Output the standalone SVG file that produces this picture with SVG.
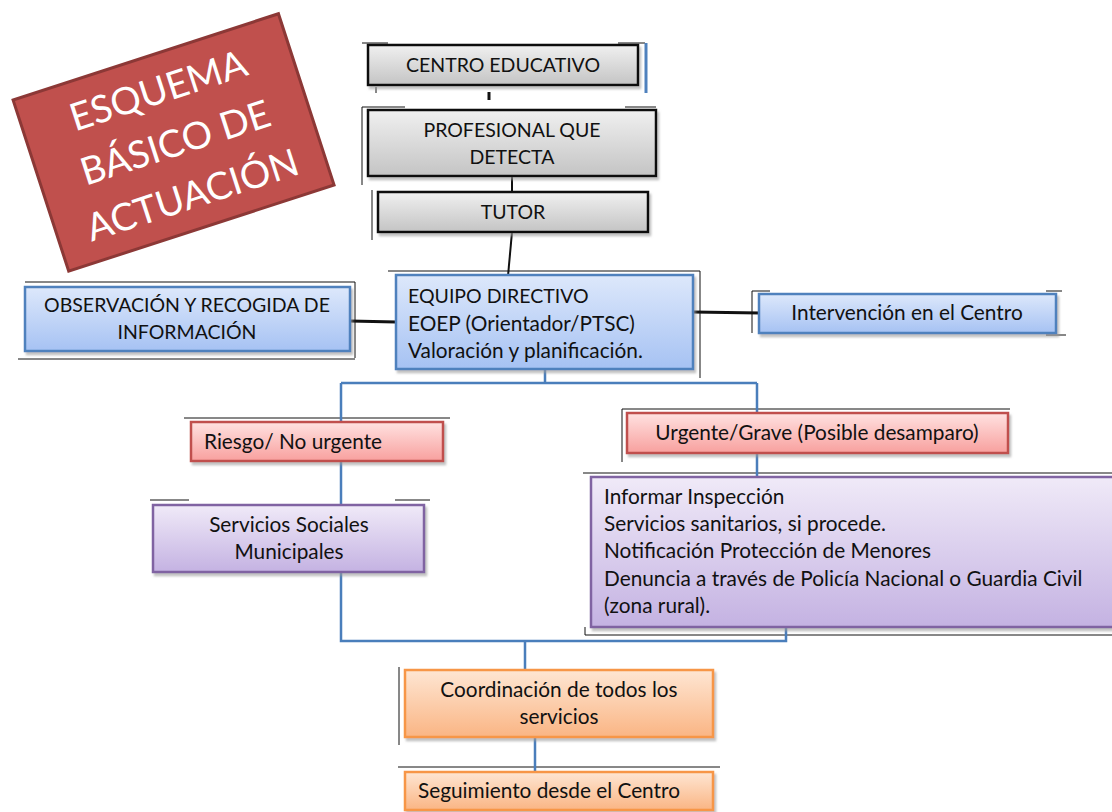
<svg xmlns="http://www.w3.org/2000/svg" width="1112" height="812" viewBox="0 0 1112 812">
<defs>
<linearGradient id="gGray" x1="0" y1="0" x2="0" y2="1"><stop offset="0" stop-color="#F0F0F0"/><stop offset="1" stop-color="#C4C4C4"/></linearGradient>
<linearGradient id="gBlue" x1="0" y1="0" x2="0" y2="1"><stop offset="0" stop-color="#DDE8FB"/><stop offset="1" stop-color="#A6C2F3"/></linearGradient>
<linearGradient id="gRed" x1="0" y1="0" x2="0" y2="1"><stop offset="0" stop-color="#FFE2E1"/><stop offset="1" stop-color="#F8A09E"/></linearGradient>
<linearGradient id="gPurple" x1="0" y1="0" x2="0" y2="1"><stop offset="0" stop-color="#F0EAF8"/><stop offset="1" stop-color="#C4B2E2"/></linearGradient>
<linearGradient id="gOrange" x1="0" y1="0" x2="0" y2="1"><stop offset="0" stop-color="#FEE6D3"/><stop offset="1" stop-color="#FAB584"/></linearGradient>
<filter id="sh" x="-5%" y="-10%" width="110%" height="130%"><feDropShadow dx="2" dy="3" stdDeviation="1" flood-color="#999" flood-opacity="0.6"/></filter>
</defs>
<style>
.t{font-family:Lato,"Open Sans","Liberation Sans",sans-serif;font-size:20.8px;fill:#111;}
.u{font-size:19.5px;}
.c{text-anchor:middle;}
.gray{fill:url(#gGray);stroke:#111;stroke-width:2.5;}
.blue{fill:url(#gBlue);stroke:#4F81BD;stroke-width:2.5;}
.red{fill:url(#gRed);stroke:#C0504D;stroke-width:2.5;}
.purple{fill:url(#gPurple);stroke:#8064A2;stroke-width:2.5;}
.orange{fill:url(#gOrange);stroke:#F79646;stroke-width:2.5;}
.bl{stroke:#111;stroke-width:3;fill:none;}
.bk{stroke:#111;stroke-width:2;fill:none;}
.bu{stroke:#4A7EBB;stroke-width:2.5;fill:none;}
.fr{stroke:#111;stroke-width:1;fill:none;}
.ti{font-family:Lato,"Open Sans","Liberation Sans",sans-serif;font-size:38px;fill:#fff;text-anchor:middle;}
</style>
<rect width="1112" height="812" fill="#fff"/>

<g id="frame-lines">
<path class="fr" d="M362 43H388M618 43H645M362 107H405M625 107H656M362 107V185M376 87V93M372 190V240M388 271H700M700 271V378M25 282H355M355 282V358M18 359H355M752 291H770M1046 291H1062M752 291V333M1046 335H1066M184 418H450M150 500H189M395 500H430M622 409H1010M622 409V462M583 473H1112M585 635H1112M585 627V635M399 667V745M398 767H720"/>
<line x1="646" y1="43" x2="646" y2="93" stroke="#4F81BD" stroke-width="3"/>
</g>

<g id="title">
<g transform="translate(175,142) rotate(-18)">
<rect x="-141" y="-90" width="279" height="180" fill="#C0504D" stroke="#8C3836" stroke-width="3"/>
<text class="ti" y="-41">ESQUEMA</text>
<text class="ti" y="14">BÁSICO DE</text>
<text class="ti" y="69">ACTUACIÓN</text>
</g>
</g>

<g id="connectors">
<line x1="489" y1="92" x2="489" y2="100" stroke="#111" stroke-width="3"/>
<line class="bk" x1="512" y1="176" x2="512" y2="192"/>
<line class="bk" x1="512" y1="232" x2="508" y2="276"/>
<line class="bl" x1="350" y1="321" x2="396" y2="322"/>
<line class="bl" x1="693" y1="312" x2="760" y2="313"/>
<path class="bu" d="M545 369V383M341 383H757M341 383V422M757 383V413"/>
<line class="bu" x1="341" y1="461" x2="341" y2="505"/>
<line class="bu" x1="757" y1="453" x2="757" y2="477"/>
<path class="bu" d="M341 572V641H786V627M525 641V670"/>
<line class="bu" x1="535" y1="737" x2="535" y2="771"/>
</g>

<g id="centro-educativo">
<rect class="gray" x="368" y="45" width="270" height="40" filter="url(#sh)"/>
<text class="t u c" x="503" y="72">CENTRO EDUCATIVO</text>
</g>
<g id="profesional">
<rect class="gray" x="368" y="110" width="288" height="66" filter="url(#sh)"/>
<text class="t u c" x="512" y="137">PROFESIONAL QUE</text>
<text class="t u c" x="512" y="164">DETECTA</text>
</g>
<g id="tutor">
<rect class="gray" x="378" y="192" width="270" height="40" filter="url(#sh)"/>
<text class="t u c" x="513" y="219">TUTOR</text>
</g>
<g id="observacion">
<rect class="blue" x="25" y="287" width="325" height="64" filter="url(#sh)"/>
<text class="t u c" x="187" y="312">OBSERVACIÓN Y RECOGIDA DE</text>
<text class="t u c" x="187" y="339">INFORMACIÓN</text>
</g>
<g id="equipo-directivo">
<rect class="blue" x="396" y="275" width="297" height="94" filter="url(#sh)"/>
<text class="t u" x="408" y="303">EQUIPO DIRECTIVO</text>
<text class="t" x="408" y="331">EOEP (Orientador/PTSC)</text>
<text class="t" x="408" y="358">Valoración y planificación.</text>
</g>
<g id="intervencion">
<rect class="blue" x="759" y="294" width="297" height="39" filter="url(#sh)"/>
<text class="t c" x="907" y="320">Intervención en el Centro</text>
</g>
<g id="riesgo">
<rect class="red" x="191" y="422" width="252" height="39" filter="url(#sh)"/>
<text class="t" x="204" y="449">Riesgo/ No urgente</text>
</g>
<g id="urgente">
<rect class="red" x="627" y="413" width="381" height="40" filter="url(#sh)"/>
<text class="t c" x="817" y="440">Urgente/Grave (Posible desamparo)</text>
</g>
<g id="servicios-sociales">
<rect class="purple" x="153" y="505" width="271" height="67" filter="url(#sh)"/>
<text class="t c" x="289" y="532">Servicios Sociales</text>
<text class="t c" x="289" y="559">Municipales</text>
</g>
<g id="acciones-urgentes">
<rect class="purple" x="591" y="477" width="530" height="150" filter="url(#sh)"/>
<text class="t" x="604" y="504">Informar Inspección</text>
<text class="t" x="604" y="531">Servicios sanitarios, si procede.</text>
<text class="t" x="604" y="558">Notificación Protección de Menores</text>
<text class="t" x="604" y="586">Denuncia a través de Policía Nacional o Guardia Civil</text>
<text class="t" x="604" y="613">(zona rural).</text>
</g>
<g id="coordinacion">
<rect class="orange" x="405" y="670" width="308" height="67" filter="url(#sh)"/>
<text class="t c" x="559" y="697">Coordinación de todos los</text>
<text class="t c" x="559" y="724">servicios</text>
</g>
<g id="seguimiento">
<rect class="orange" x="405" y="772" width="308" height="38" filter="url(#sh)"/>
<text class="t" x="418" y="798">Seguimiento desde el Centro</text>
</g>
</svg>
